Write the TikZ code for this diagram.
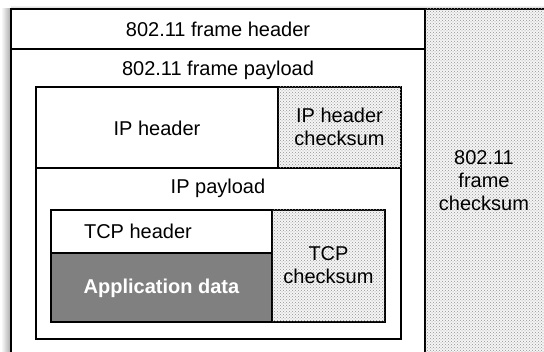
\documentclass[tikz,border=0pt]{standalone}
\usepackage{fontspec}
\setmainfont{Liberation Sans}
\usetikzlibrary{patterns}

\tikzset{
  cell/.style={draw=black, line width=1.5pt},
  sumcell/.style={cell, fill=gray!8, postaction={pattern=crosshatch dots, pattern color=gray!85}},
  label/.style={align=center, font=\fontsize{20}{23}\selectfont, inner sep=0pt},
}

\begin{document}
\begin{tikzpicture}[x=1pt, y=-1pt]
  \useasboundingbox (0,0) rectangle (544,352);
  \clip (0,0) rectangle (544,352);

  % soft shadow along the outer frame
  \shade[left color=white, right color=gray!65] (1,9) rectangle (10.5,360);
  \shade[top color=white, bottom color=gray!40] (11,5) rectangle (550,8.5);

  % ---- 802.11 frame ----
  \draw[cell, fill=white] (11,9) rectangle (560,360);
  \draw[cell] (11,49) -- (425,49);
  \node[label] (fhdr) at (218,29) {802.11 frame header};
  \node[label] (fpay) at (218,70) {802.11 frame payload};

  % frame checksum column on the right
  \draw[sumcell] (425,9) rectangle (560,360);
  \node[label] (fsum) at (484,181) {802.11\\frame\\checksum};

  % ---- IP packet ----
  \draw[cell] (36,87) rectangle (401,339);
  \draw[cell] (36,168) -- (401,168);
  \node[label] (iphdr) at (157,128) {IP header};
  \draw[sumcell] (278,87) rectangle (401,168);
  \node[label] (ipsum) at (339.5,127) {IP header\\checksum};
  \node[label] (ippay) at (218,188) {IP payload};

  % ---- TCP segment ----
  \draw[cell] (51,210) rectangle (385,322);
  \node[label] (tcphdr) at (138,231) {TCP header};
  \draw[cell, fill=gray] (51,253) rectangle (272,322);
  \node[label, text=white, font=\fontsize{20}{23}\selectfont\bfseries] (appdata) at (161.5,288) {Application data};
  \draw[sumcell] (272,210) rectangle (385,322);
  \node[label] (tcpsum) at (328.5,265) {TCP\\checksum};

\end{tikzpicture}
\end{document}
